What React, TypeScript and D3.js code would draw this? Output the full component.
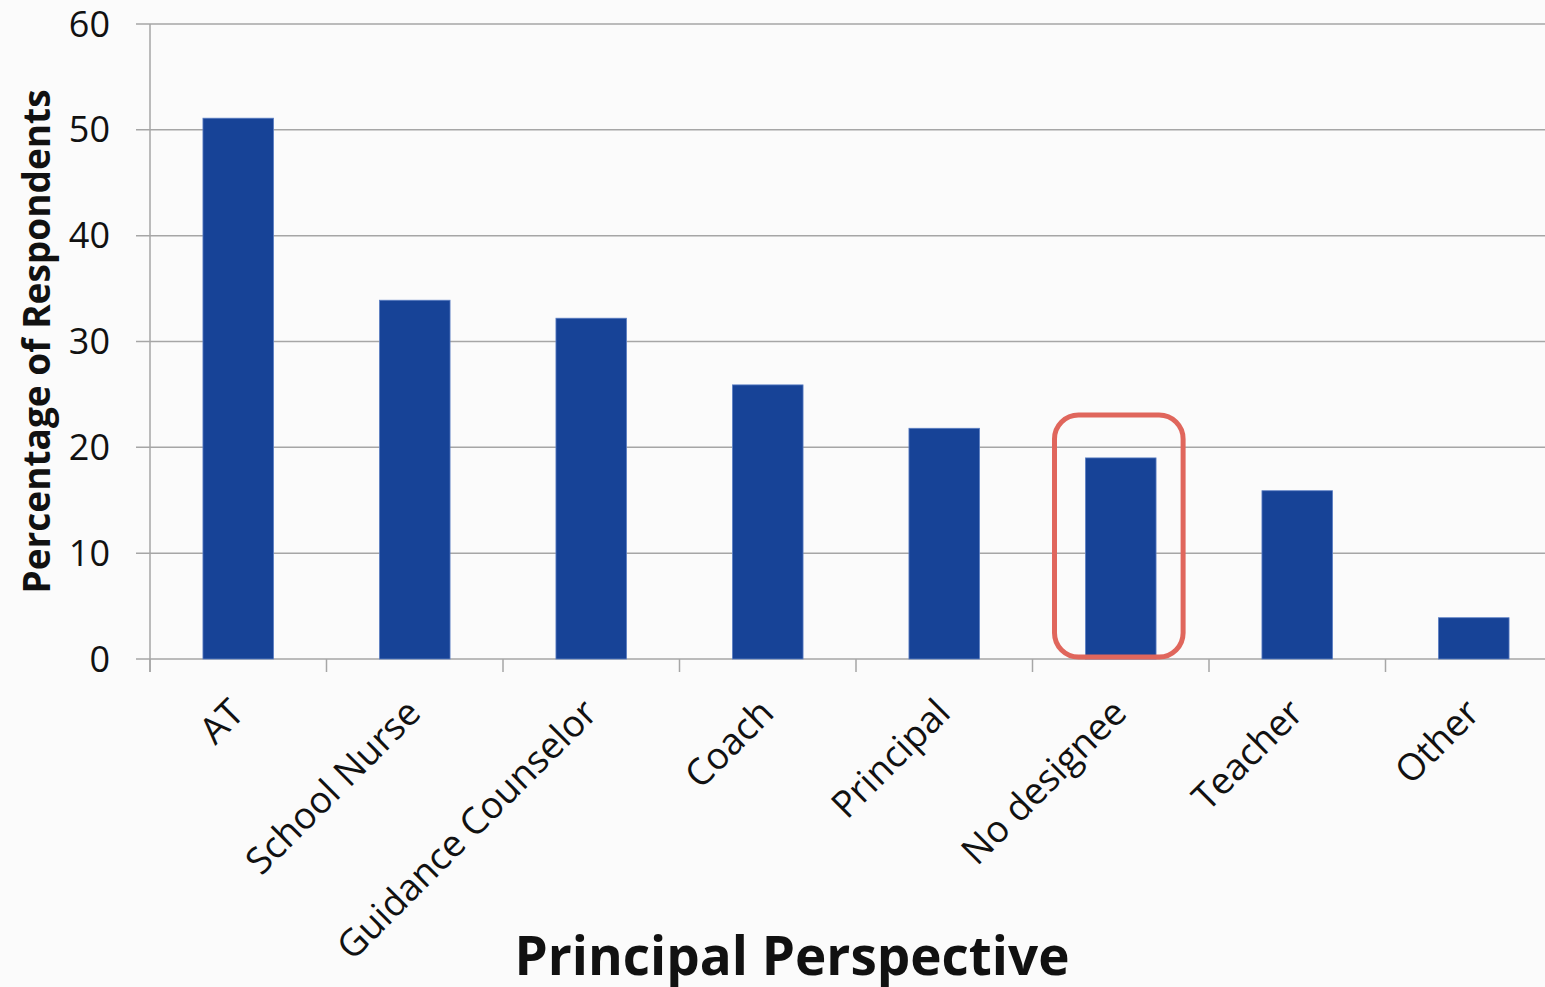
import { useEffect } from "react";
import * as d3 from "d3";

const categories = [
  "AT",
  "School Nurse",
  "Guidance Counselor",
  "Coach",
  "Principal",
  "No designee",
  "Teacher",
  "Other",
];
const values = [51.1, 33.9, 32.2, 25.9, 21.8, 19.0, 15.9, 3.9];
const yTicks = [0, 10, 20, 30, 40, 50, 60];
const highlighted = "No designee";

const W = 1545;
const H = 987;
const FONT = "'Open Sans', 'Noto Sans', sans-serif";

export default function App() {
  useEffect(() => {
    document.body.style.margin = "0";
  }, []);

  const x = d3
    .scaleBand<string>()
    .domain(categories)
    .range([150, 1562])
    .paddingInner(0.6)
    .paddingOuter(0.3);
  const y = d3.scaleLinear().domain([0, 60]).range([659, 24]);

  const step = x.step();
  const gap = (step * x.paddingInner()) / 2;
  // category boundaries for the x ticks
  const boundaries = categories.map((c) => (x(c) ?? 0) - gap);
  boundaries.push(x.range()[1]);

  const hx = x(highlighted) ?? 0;
  const hv = values[categories.indexOf(highlighted)];

  return (
    <svg width={W} height={H} style={{ display: "block", background: "#fbfbfb" }}>
      {/* grid lines */}
      {yTicks.map((t) => (
        <line
          key={t}
          x1={136}
          x2={W}
          y1={y(t)}
          y2={y(t)}
          stroke="#a6a6a6"
          strokeWidth={1.5}
        />
      ))}
      {/* y axis */}
      <line x1={150} x2={150} y1={y(60)} y2={y(0) + 13} stroke="#a6a6a6" strokeWidth={1.5} />
      {yTicks.map((t) => (
        <text
          key={t}
          x={110}
          y={y(t)}
          dy="0.35em"
          textAnchor="end"
          fontFamily={FONT}
          fontSize={36}
          fill="#111"
        >
          {t}
        </text>
      ))}
      {/* x ticks */}
      {boundaries.map((b, i) => (
        <line key={i} x1={b} x2={b} y1={y(0)} y2={y(0) + 13} stroke="#a6a6a6" strokeWidth={1.5} />
      ))}
      {/* bars */}
      {categories.map((c, i) => (
        <rect
          key={c}
          x={x(c)}
          y={y(values[i])}
          width={x.bandwidth()}
          height={y(0) - y(values[i])}
          fill="#174397"
          stroke="#5c7fc4"
          strokeWidth={0.8}
        />
      ))}
      {/* highlight box */}
      <rect
        x={hx - gap + 22}
        y={y(hv) - 43}
        width={x.bandwidth() + 58}
        height={y(0) - y(hv) + 41}
        rx={24}
        fill="none"
        stroke="#e0665c"
        strokeWidth={5}
      />
      {/* category labels */}
      {categories.map((c) => {
        const cx = (x(c) ?? 0) + x.bandwidth() / 2 + 8;
        return (
          <text
            key={c}
            transform={`translate(${cx},${y(0) + 56}) rotate(-45)`}
            textAnchor="end"
            fontFamily={FONT}
            fontSize={37}
            fill="#111"
          >
            {c}
          </text>
        );
      })}
      {/* axis titles */}
      <text
        transform={`translate(50,${(y(60) + y(0)) / 2}) rotate(-90)`}
        textAnchor="middle"
        fontFamily={FONT}
        fontWeight="bold"
        fontSize={37}
        fill="#111"
      >
        Percentage of Respondents
      </text>
      <text
        x={792}
        y={975}
        textAnchor="middle"
        fontFamily={FONT}
        fontWeight="bold"
        fontSize={53}
        fill="#111"
      >
        Principal Perspective
      </text>
    </svg>
  );
}
